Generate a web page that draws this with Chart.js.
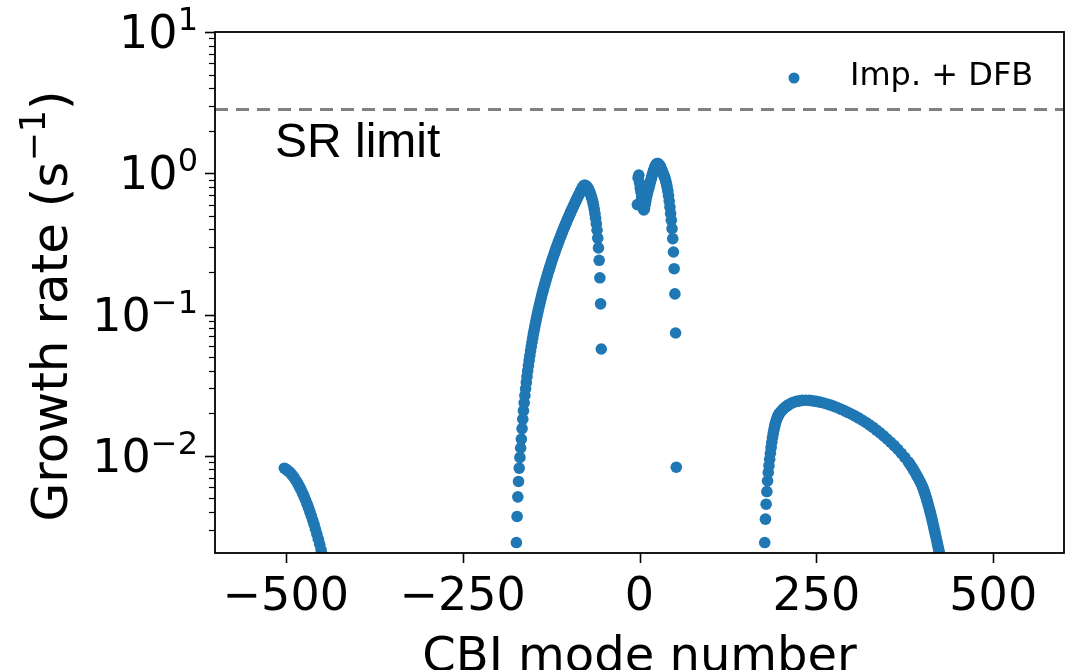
<!DOCTYPE html>
<html>
<head>
<meta charset="utf-8">
<script src="https://cdn.jsdelivr.net/npm/chart.js@4"></script>
<style>
  html, body { margin: 0; padding: 0; background: #ffffff; }
  canvas { display: block; }
</style>
</head>
<body>
<canvas id="chart" width="1074" height="670"></canvas>
<script>
// Growth rate of each coupled-bunch mode, impedance + feedback, split by branch.

// branch near mode -500
const modesWest = [-502, -500, -498, -496, -494, -492, -490, -488, -486, -484, -482, -480, -478, -476, -474,
  -472, -470, -468, -466, -464, -462, -460, -458, -456, -454, -452, -450, -448, -446];
const ratesWest = [0.00817, 0.00806, 0.00792, 0.00777, 0.0076, 0.00741, 0.0072, 0.00697, 0.00674, 0.00649,
  0.00623, 0.00596, 0.00569, 0.00541, 0.00514, 0.00486, 0.00458, 0.00431, 0.00404, 0.00377, 0.00352,
  0.00327, 0.00302, 0.00279, 0.00257, 0.00236, 0.00216, 0.00197, 0.00179];

// hump between -175 and -54
const modesLeftHump = [-174, -173, -172, -171, -170, -169, -168, -167, -166, -165, -164, -163, -162, -161, -160,
  -159, -158, -157, -156, -155, -154, -153, -152, -151, -150, -149, -148, -147, -146, -145, -144, -143, -142,
  -141, -140, -139, -138, -137, -136, -135, -134, -133, -132, -131, -130, -129, -128, -127, -126, -125, -124,
  -123, -122, -121, -120, -119, -118, -117, -116, -115, -114, -113, -112, -111, -110, -109, -108, -107, -106,
  -105, -104, -103, -102, -101, -100, -99, -98, -97, -96, -95, -94, -93, -92, -91, -90, -89, -88, -87, -86,
  -85, -84, -83, -82, -81, -80, -79, -78, -77, -76, -75, -74, -73, -72, -71, -70, -69, -68, -67, -66, -65,
  -64, -63, -62, -61, -60, -59, -58, -57, -56, -55, -54];
const ratesLeftHump = [0.00243, 0.00372, 0.00512, 0.00658, 0.00818, 0.00973, 0.01135, 0.01313, 0.01557,
  0.01815, 0.02087, 0.02372, 0.02672, 0.02983, 0.03307, 0.03643, 0.03994, 0.04357, 0.04733, 0.05122,
  0.05521, 0.05933, 0.06359, 0.068, 0.07253, 0.07717, 0.08193, 0.08686, 0.09192, 0.0971, 0.1024, 0.1079,
  0.1134, 0.1192, 0.125, 0.131, 0.1372, 0.1435, 0.1499, 0.1565, 0.1633, 0.1702, 0.1772, 0.1843, 0.1916,
  0.1991, 0.2068, 0.2146, 0.2226, 0.2307, 0.239, 0.2474, 0.2561, 0.2649, 0.2739, 0.283, 0.2924, 0.3019,
  0.3116, 0.3215, 0.3317, 0.3418, 0.3522, 0.3629, 0.3737, 0.3848, 0.396, 0.4074, 0.419, 0.4309, 0.443,
  0.4553, 0.4678, 0.4804, 0.4933, 0.5064, 0.52, 0.5335, 0.5474, 0.5614, 0.5756, 0.5902, 0.605, 0.62,
  0.6353, 0.6507, 0.6668, 0.6828, 0.6992, 0.7159, 0.7328, 0.7497, 0.7672, 0.7849, 0.8029, 0.815, 0.822,
  0.822, 0.817, 0.808, 0.797, 0.784, 0.768, 0.75, 0.73, 0.707, 0.682, 0.655, 0.625, 0.593, 0.558, 0.52,
  0.48, 0.44, 0.395, 0.347, 0.296, 0.242, 0.182, 0.119, 0.057];

// modes around zero
const modesCentre = [-3, -2, -1, 0, 1, 2, 3, 4, 5, 6, 7, 8, 9, 10, 11, 12, 13, 14, 15, 16, 17, 18, 19, 20,
  21, 22, 23, 24, 25, 26, 27, 28, 29, 30, 31, 32, 33, 34, 35, 36, 37, 38, 39, 40, 41, 42, 43, 44, 45, 46,
  47, 48, 49, 50, 51, 52];
const ratesCentre = [0.60, 0.93, 0.97, 0.86, 0.79, 0.74, 0.68, 0.63, 0.58, 0.55, 0.56, 0.60, 0.635, 0.681,
  0.715, 0.748, 0.783, 0.818, 0.855, 0.893, 0.931, 0.97, 1.009, 1.047, 1.084, 1.117, 1.143, 1.161, 1.172,
  1.17, 1.16, 1.145, 1.125, 1.10, 1.07, 1.04, 1.01, 0.98, 0.95, 0.92, 0.885, 0.845, 0.80, 0.75, 0.695,
  0.635, 0.577, 0.52, 0.464, 0.405, 0.344, 0.277, 0.211, 0.14, 0.074, 0.0083];

// broad hump between 177 and 425
const modesRightHump = [177, 178, 179, 180, 181, 182, 183, 184, 185, 186, 187, 188, 189, 190, 191, 192, 193,
  194, 195, 196, 197, 198, 200, 202, 204, 206, 208, 210, 212, 215, 218, 222, 226, 230, 235, 240, 245, 250,
  255, 260, 265, 270, 275, 280, 285, 290, 295, 300, 305, 310, 315, 320, 325, 330, 335, 340, 345, 350, 355,
  360, 365, 370, 375, 380, 382, 384, 386, 388, 390, 392, 394, 396, 398, 400, 401, 402, 403, 404, 405, 406,
  407, 408, 409, 410, 411, 412, 413, 414, 415, 416, 417, 418, 419, 420, 421, 422, 423, 424, 425];
const ratesRightHump = [0.00243, 0.00356, 0.00454, 0.00558, 0.00665, 0.00762, 0.00851, 0.00944, 0.01042,
  0.01146, 0.01245, 0.01343, 0.01439, 0.01531, 0.01614, 0.0169, 0.01758, 0.0182, 0.01875, 0.01923, 0.01963,
  0.02, 0.0206, 0.02113, 0.02163, 0.02208, 0.02249, 0.02286, 0.02317, 0.0236, 0.02393, 0.02427, 0.02449,
  0.02466, 0.02472, 0.02466, 0.02449, 0.02427, 0.02399, 0.02366, 0.02328, 0.02286, 0.02239, 0.02188,
  0.02133, 0.0208, 0.02023, 0.01968, 0.0191, 0.01849, 0.01786, 0.01722, 0.01656, 0.01589, 0.01521,
  0.01452, 0.01384, 0.01315, 0.01247, 0.0118, 0.01112, 0.01042, 0.00973, 0.00904, 0.00875, 0.00845,
  0.00815, 0.00785, 0.00755, 0.00724, 0.00695, 0.00665, 0.00635, 0.00605, 0.00586, 0.00568, 0.00548,
  0.00528, 0.00509, 0.0049, 0.00471, 0.00452, 0.00434, 0.00415, 0.00397, 0.00379, 0.00361, 0.00344,
  0.00327, 0.00311, 0.00296, 0.00281, 0.00266, 0.00252, 0.00239, 0.00227, 0.00215, 0.00204, 0.00194];

// synchrotron-radiation damping limit (s^-1)
const srLimit = 2.83;

const xRange = [-600, 600];
const yRange = [0.00205, 10];
const xTickValues = [-500, -250, 0, 250, 500];
const xTickLabels = ['\u2212500', '\u2212250', '0', '250', '500'];
const yTickValues = [0.01, 0.1, 1, 10];
const yTickExponents = ['\u22122', '\u22121', '0', '1'];

const seriesLabel = 'Imp. + DFB';
const limitLabel = 'SR limit';
const xTitle = 'CBI mode number';
const yTitleMain = 'Growth rate (s';
const yTitleSup = '\u22121';
const yTitleEnd = ')';

const BLUE = '#1f77b4';
const GREY = '#808080';
const DEJAVU = '"DejaVu Sans", sans-serif';

function pairUp(xs, ys) {
  return xs.map((x, i) => ({ x: x, y: ys[i] }));
}

const growthPoints = [].concat(
  pairUp(modesWest, ratesWest),
  pairUp(modesLeftHump, ratesLeftHump),
  pairUp(modesCentre, ratesCentre),
  pairUp(modesRightHump, ratesRightHump)
);
const limitPoints = [{ x: xRange[0], y: srLimit }, { x: xRange[1], y: srLimit }];

// frame, ticks, tick labels, titles, annotation and legend
const decorations = {
  id: 'decorations',
  afterDatasetsDraw(chart) {
    const ctx = chart.ctx;
    const a = chart.chartArea;
    const xs = chart.scales.x;
    const ys = chart.scales.y;
    ctx.save();
    ctx.fillStyle = '#000';
    ctx.strokeStyle = '#000';

    // axes frame
    ctx.lineWidth = 1.8;
    ctx.strokeRect(a.left, a.top, a.right - a.left, a.bottom - a.top);

    // x ticks and labels
    ctx.lineWidth = 1.6;
    ctx.font = '46px ' + DEJAVU;
    ctx.textAlign = 'center';
    ctx.textBaseline = 'alphabetic';
    xTickValues.forEach((v, i) => {
      const px = Math.round(xs.getPixelForValue(v)) + 0.5;
      ctx.beginPath();
      ctx.moveTo(px, a.bottom);
      ctx.lineTo(px, a.bottom + 10);
      ctx.stroke();
      ctx.fillText(xTickLabels[i], xs.getPixelForValue(v), 610);
    });

    // y minor ticks
    ctx.lineWidth = 1.2;
    for (let e = -3; e <= 0; e++) {
      for (let k = 2; k <= 9; k++) {
        const v = k * Math.pow(10, e);
        if (v < yRange[0] || v > yRange[1]) continue;
        const py = Math.round(ys.getPixelForValue(v)) + 0.5;
        ctx.beginPath();
        ctx.moveTo(a.left - 6, py);
        ctx.lineTo(a.left, py);
        ctx.stroke();
      }
    }

    // y major ticks and power-of-ten labels
    ctx.lineWidth = 1.6;
    yTickValues.forEach((v, i) => {
      const yp = ys.getPixelForValue(v);
      const py = Math.round(yp) + 0.5;
      ctx.beginPath();
      ctx.moveTo(a.left - 10, py);
      ctx.lineTo(a.left, py);
      ctx.stroke();
      const right = a.left - 17;
      ctx.textAlign = 'right';
      ctx.font = '32px ' + DEJAVU;
      const wSup = ctx.measureText(yTickExponents[i]).width;
      ctx.fillText(yTickExponents[i], right, yp - 2);
      ctx.font = '46px ' + DEJAVU;
      ctx.fillText('10', right - wSup, yp + 16);
    });

    // x title
    ctx.textAlign = 'center';
    ctx.font = '48px ' + DEJAVU;
    ctx.fillText(xTitle, (a.left + a.right) / 2, 671);

    // y title, rotated
    ctx.save();
    ctx.translate(67, 306);
    ctx.rotate(-Math.PI / 2);
    ctx.textAlign = 'left';
    ctx.font = '50px ' + DEJAVU;
    const w1 = ctx.measureText(yTitleMain).width;
    const w3 = ctx.measureText(yTitleEnd).width;
    ctx.font = '35px ' + DEJAVU;
    const w2 = ctx.measureText(yTitleSup).width;
    const start = -(w1 + w2 + w3) / 2;
    ctx.font = '50px ' + DEJAVU;
    ctx.fillText(yTitleMain, start, 0);
    ctx.fillText(yTitleEnd, start + w1 + w2, 0);
    ctx.font = '35px ' + DEJAVU;
    ctx.fillText(yTitleSup, start + w1, -22);
    ctx.restore();

    // limit annotation
    ctx.textAlign = 'left';
    ctx.font = '48px "Liberation Sans", Arial, sans-serif';
    ctx.fillText(limitLabel, 275, 157);

    // legend
    ctx.fillStyle = BLUE;
    ctx.beginPath();
    ctx.arc(794, 78, 5.5, 0, Math.PI * 2);
    ctx.fill();
    ctx.fillStyle = '#000';
    ctx.font = '32px ' + DEJAVU;
    ctx.fillText(seriesLabel, 850, 85);

    ctx.restore();
  }
};

new Chart(document.getElementById('chart'), {
  type: 'scatter',
  data: {
    datasets: [
      {
        label: seriesLabel,
        data: growthPoints,
        pointRadius: 5.8,
        pointHoverRadius: 5.8,
        pointBorderWidth: 0,
        backgroundColor: BLUE,
        borderColor: BLUE,
        showLine: false
      },
      {
        label: limitLabel,
        data: limitPoints,
        showLine: true,
        pointRadius: 0,
        borderColor: GREY,
        borderWidth: 3,
        borderDash: [13, 8],
        fill: false
      }
    ]
  },
  options: {
    responsive: false,
    animation: false,
    devicePixelRatio: 1,
    layout: { padding: { left: 0, right: 10, top: 32, bottom: 0 } },
    plugins: { legend: { display: false }, tooltip: { enabled: false } },
    scales: {
      x: {
        type: 'linear',
        min: xRange[0],
        max: xRange[1],
        ticks: { display: false },
        grid: { display: false },
        border: { display: false },
        afterFit(scale) { scale.height = 117; }
      },
      y: {
        type: 'logarithmic',
        min: yRange[0],
        max: yRange[1],
        ticks: { display: false },
        grid: { display: false },
        border: { display: false },
        afterFit(scale) { scale.width = 215; }
      }
    }
  },
  plugins: [decorations]
});
</script>
</body>
</html>
